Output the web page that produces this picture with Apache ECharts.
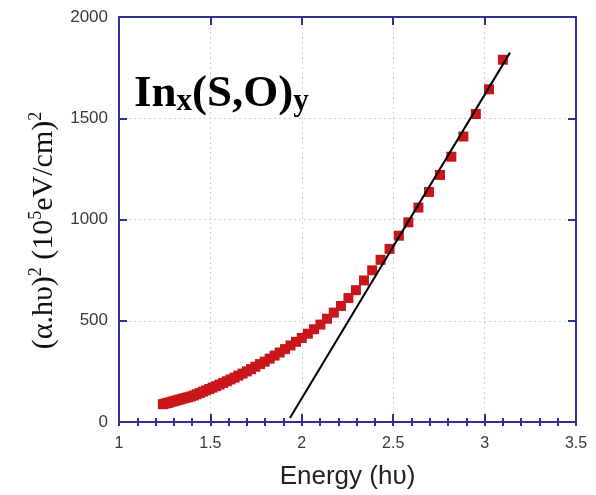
<!DOCTYPE html>
<html>
<head>
<meta charset="utf-8">
<script src="https://cdn.jsdelivr.net/npm/echarts@6/dist/echarts.min.js"></script>
<style>
  html, body { margin: 0; padding: 0; background: #fff; }
  #chart { width: 596px; height: 495px; }
</style>
</head>
<body>
<div id="chart"></div>
<script>
// photon energy (eV) of each measured point
const energy = [1.240, 1.253, 1.265, 1.278, 1.292, 1.305, 1.319, 1.333, 1.348, 1.363, 1.378, 1.393,
  1.409, 1.425, 1.442, 1.459, 1.476, 1.494, 1.512, 1.531, 1.550, 1.570, 1.590, 1.610, 1.632,
  1.653, 1.676, 1.699, 1.722, 1.746, 1.771, 1.797, 1.824, 1.851, 1.879, 1.908, 1.938, 1.968,
  2.000, 2.033, 2.067, 2.102, 2.138, 2.175, 2.214, 2.255, 2.296, 2.340, 2.385, 2.431, 2.480,
  2.531, 2.583, 2.638, 2.696, 2.756, 2.818, 2.884, 2.952, 3.024, 3.100];
// (alpha.hv)^2 in 10^5 eV/cm squared
const absorb = [88, 91, 94, 97, 101, 104, 108, 111, 115, 119, 122, 126,
  131, 137, 143, 150, 156, 163, 170, 177, 185, 193, 201, 210, 219,
  229, 239, 250, 261, 273, 286, 298, 313, 328, 343, 360, 378, 396,
  415, 436, 458, 481, 510, 540, 573, 612, 651, 699, 749, 801, 855,
  920, 986, 1059, 1136, 1220, 1310, 1410, 1521, 1643, 1789];
// linear extrapolation (Tauc line)
const fitX = [1.935, 3.139];
const fitY = [20, 1824];

const axisColor = '#2d3192';
const labelColor = '#3a3a3a';

const chart = echarts.init(document.getElementById('chart'));

// x axes: major (0.5) and minor (0.1) ticks on bottom and top
function xAxisBase(extra) {
  return Object.assign({
    type: 'value', min: 1, max: 3.5, interval: 0.5,
    axisLine: { show: true, onZero: false, lineStyle: { color: axisColor, width: 2 } },
    axisTick: { show: true, inside: true, length: 8, lineStyle: { color: axisColor, width: 2 } },
    axisLabel: { show: false },
    splitLine: { show: false }
  }, extra);
}
function xMinorAxis(pos) {
  return xAxisBase({
    position: pos,
    interval: 0.1,
    axisLine: { show: false },
    axisTick: { show: true, inside: true, length: 4, lineStyle: { color: axisColor, width: 2 } }
  });
}
function yAxisBase(extra) {
  return Object.assign({
    type: 'value', min: 0, max: 2000, interval: 500,
    axisLine: { show: true, onZero: false, lineStyle: { color: axisColor, width: 2 } },
    axisTick: { show: true, inside: true, length: 8, lineStyle: { color: axisColor, width: 2 } }
  }, extra);
}

const option = {
  backgroundColor: '#fff',
  animation: false,
  title: {
    text: '{m|In}{s|x}{m|(S,O)}{s|y}',
    left: 134,
    top: 71,
    padding: 0,
    textStyle: {
      rich: {
        m: { fontFamily: 'Liberation Serif', fontWeight: 'bold', fontSize: 45, lineHeight: 46, color: '#000' },
        s: { fontFamily: 'Liberation Serif', fontWeight: 'bold', fontSize: 31, lineHeight: 2, verticalAlign: 'bottom', color: '#000' }
      }
    }
  },
  grid: { left: 119, right: 20, top: 17, bottom: 70 },
  xAxis: [
    xAxisBase({
      position: 'bottom',
      name: 'Energy (h\u03c5)',
      nameLocation: 'middle',
      nameGap: 42,
      nameTextStyle: { fontFamily: 'Liberation Sans', fontSize: 26, color: '#222' },
      axisLabel: { show: true, margin: 14, fontFamily: 'Liberation Sans', fontSize: 16, color: labelColor },
      splitLine: { show: true, lineStyle: { color: '#cfd0dc', type: [2, 3], width: 1 } }
    }),
    xAxisBase({ position: 'top' }),
    xMinorAxis('bottom'),
    xMinorAxis('top')
  ],
  yAxis: [
    yAxisBase({
      position: 'left',
      name: '{m|(\u03b1.h\u03c5)}{p|2}{m| (10}{p|5}{m|eV/cm)}{p|2}',
      nameLocation: 'middle',
      nameRotate: 90,
      nameGap: 44,
      nameTextStyle: {
        padding: [0, 22, 0, 0],
        rich: {
          m: { fontFamily: 'Liberation Serif', fontSize: 30, lineHeight: 34, color: '#111' },
          p: { fontFamily: 'Liberation Serif', fontSize: 18, lineHeight: 12, verticalAlign: 'top', color: '#111' }
        }
      },
      axisLabel: { margin: 11, fontFamily: 'Liberation Sans', fontSize: 17, color: labelColor, formatter: v => String(v) },
      splitLine: { show: true, lineStyle: { color: '#cfd0dc', type: [2, 3], width: 1 } }
    }),
    yAxisBase({
      position: 'right',
      axisLabel: { show: false },
      splitLine: { show: false }
    })
  ],
  series: [
    {
      type: 'scatter',
      symbol: 'rect',
      symbolSize: 10,
      itemStyle: { color: '#c8161b', opacity: 1 },
      data: energy.map((e, i) => [e, absorb[i]])
    },
    {
      type: 'line',
      symbol: 'none',
      lineStyle: { color: '#000', width: 2 },
      data: fitX.map((x, i) => [x, fitY[i]])
    }
  ]
};

chart.setOption(option);
</script>
</body>
</html>
